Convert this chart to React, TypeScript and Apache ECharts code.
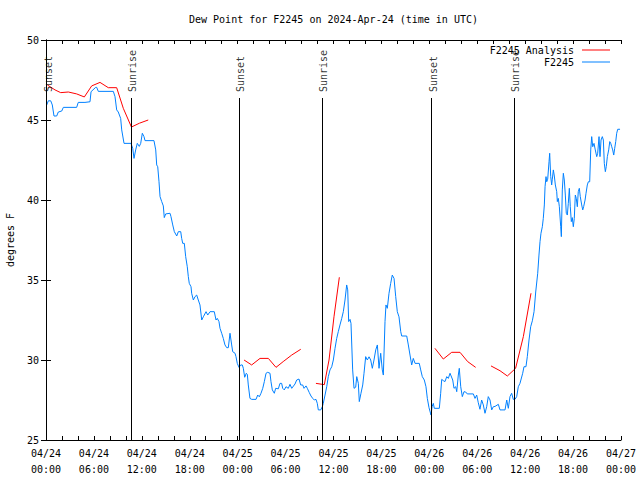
import React, { useEffect, useRef } from "react";
import * as echarts from "echarts";

const FONT = "DejaVu Sans Mono";

const titleText = "Dew Point for F2245 on 2024-Apr-24 (time in UTC)";
const yAxisName = "degrees F";
const tickDates = ["04/24", "04/24", "04/24", "04/24", "04/25", "04/25", "04/25", "04/25", "04/26", "04/26", "04/26", "04/26", "04/27"];
const tickTimes = ["00:00", "06:00", "12:00", "18:00", "00:00", "06:00", "12:00", "18:00", "00:00", "06:00", "12:00", "18:00", "00:00"];

// hours since 2024-04-24 00:00 UTC
const events: { h: number; name: string }[] = [
  { h: 0.09, name: "Sunset" },
  { h: 10.64, name: "Sunrise" },
  { h: 24.15, name: "Sunset" },
  { h: 34.6, name: "Sunrise" },
  { h: 48.3, name: "Sunset" },
  { h: 58.64, name: "Sunrise" },
];

const analysisSeg1: [number, number][] = [
  [0.17, 47.19], [1.13, 46.88], [1.84, 46.71], [2.8, 46.75], [3.84, 46.63], [4.8, 46.44],
  [5.72, 47.13], [6.76, 47.35], [7.8, 47.02], [8.85, 47.02], [9.68, 45.73], [10.7, 44.56],
  [11.7, 44.8], [12.8, 45.0],
];
const analysisSeg2: [number, number][] = [
  [24.8, 30.0], [25.75, 29.69], [26.8, 30.1], [27.84, 30.1], [28.8, 29.54], [29.7, 29.9],
  [30.77, 30.31], [31.9, 30.67],
];
const analysisSeg3: [number, number][] = [
  [33.8, 28.54], [34.85, 28.46], [35.44, 30.0], [36.06, 32.7], [36.73, 35.17],
];
const analysisSeg4: [number, number][] = [
  [48.7, 30.73], [49.75, 30.06], [50.8, 30.48], [51.84, 30.48], [52.8, 29.9], [53.8, 29.54],
];
const analysisSeg5: [number, number][] = [
  [55.72, 29.63], [56.85, 29.33], [57.77, 29.0], [58.8, 29.48], [59.77, 31.46], [60.73, 34.17],
];

const f2245: [number, number][] = [
  [0.09, 45.94], [0.29, 46.2], [0.59, 46.2], [0.79, 45.94], [1.0, 45.25], [1.34, 45.25], [1.54, 45.5],
  [1.97, 45.56], [2.17, 45.79], [3.84, 45.79], [4.04, 46.1], [4.88, 46.1], [5.51, 46.14], [5.64, 46.77],
  [6.22, 47.04], [6.35, 47.04], [6.55, 46.79], [8.43, 46.79], [8.64, 46.46], [8.85, 45.63], [9.05, 45.5],
  [9.35, 45.1], [9.48, 44.38], [9.77, 43.54], [10.64, 43.54], [10.86, 43.23], [11.02, 42.6], [11.23, 43.13],
  [11.43, 43.54], [11.68, 43.35], [11.86, 43.54], [12.06, 44.17], [12.27, 43.96], [12.4, 43.71],
  [13.52, 43.71], [13.74, 43.13], [13.86, 42.19], [13.99, 42.08], [14.15, 41.14], [14.28, 40.21],
  [14.49, 39.9], [14.69, 39.63], [14.81, 38.9], [14.99, 39.13], [15.53, 39.17], [15.65, 38.96],
  [15.87, 38.44], [16.07, 38.02], [16.37, 37.75], [16.57, 38.02], [16.87, 38.02], [16.99, 37.6],
  [17.12, 37.29], [17.32, 37.29], [17.49, 36.46], [17.69, 35.83], [17.82, 35.21], [17.94, 34.79],
  [18.16, 34.58], [18.24, 34.17], [18.45, 33.75], [18.66, 33.96], [18.87, 34.06], [19.07, 33.75],
  [19.28, 33.44], [19.5, 32.5], [19.7, 32.7], [20.04, 33.02], [20.25, 32.81], [20.54, 33.02],
  [21.07, 33.02], [21.29, 32.5], [21.45, 32.6], [21.66, 32.4], [21.79, 31.98], [22.0, 31.67],
  [22.2, 31.35], [22.41, 30.94], [22.63, 30.77], [22.83, 30.77], [23.04, 31.67], [23.25, 30.94],
  [23.38, 30.52], [23.67, 30.42], [23.79, 30.21], [23.95, 29.79], [24.17, 29.54], [24.38, 29.69],
  [24.58, 29.69], [24.71, 29.48], [24.88, 28.92], [25.08, 29.17], [25.21, 29.1], [25.33, 28.44],
  [25.54, 27.6], [25.76, 27.54], [26.3, 27.54], [26.51, 27.81], [26.71, 27.7], [26.92, 27.92],
  [27.14, 28.23], [27.34, 28.65], [27.55, 29.17], [27.76, 29.23], [28.05, 29.17], [28.17, 28.65],
  [28.34, 28.13], [28.59, 27.92], [28.76, 28.23], [29.09, 28.2], [29.3, 28.54], [29.51, 28.54],
  [29.64, 28.23], [29.84, 28.13], [30.05, 28.33], [30.34, 28.23], [30.55, 28.48], [30.77, 28.23],
  [31.18, 28.5], [31.39, 28.75], [31.68, 28.81], [31.89, 28.44], [32.14, 28.44], [32.31, 28.23],
  [32.56, 28.38], [32.72, 28.23], [32.97, 27.96], [33.18, 27.75], [33.4, 27.6], [33.6, 27.5],
  [33.81, 27.54], [33.97, 27.29], [34.1, 26.88], [34.4, 26.88], [34.6, 27.08], [34.72, 27.29],
  [34.94, 27.81], [35.15, 28.33], [35.35, 28.96], [35.56, 29.38], [35.78, 29.58], [35.98, 30.0],
  [36.19, 30.73], [36.4, 31.35], [36.6, 31.77], [36.81, 32.19], [37.03, 32.6], [37.23, 33.02],
  [37.44, 33.75], [37.65, 34.69], [37.78, 34.38], [37.9, 32.4], [38.07, 32.54], [38.19, 32.29],
  [38.4, 29.38], [38.57, 28.23], [38.78, 28.3], [38.91, 28.96], [39.11, 28.54], [39.23, 27.4],
  [39.44, 27.92], [39.66, 28.44], [39.82, 29.17], [40.03, 30.21], [40.23, 30.0], [40.45, 30.2],
  [40.66, 30.0], [40.86, 29.48], [41.07, 30.0], [41.29, 30.63], [41.49, 30.94], [41.7, 29.48],
  [41.91, 30.42], [42.11, 29.38], [42.24, 29.06], [42.45, 32.4], [42.57, 33.44], [42.74, 33.23],
  [42.95, 34.17], [43.16, 34.79], [43.36, 35.31], [43.58, 35.1], [43.79, 33.96], [43.99, 33.02],
  [44.2, 32.7], [44.42, 31.77], [44.54, 31.5], [45.17, 31.5], [45.37, 30.94], [45.58, 30.31],
  [45.79, 29.69], [45.99, 30.1], [46.21, 29.79], [46.74, 29.79], [46.92, 29.38], [47.12, 28.96],
  [47.37, 28.75], [47.58, 28.33], [47.75, 27.6], [47.96, 27.02], [48.21, 26.56], [48.34, 27.08],
  [48.5, 27.29], [48.62, 26.98], [49.25, 26.98], [49.42, 27.92], [49.55, 28.79], [49.75, 28.71],
  [49.96, 28.65], [50.18, 28.96], [50.38, 28.85], [50.59, 29.17], [50.93, 28.75], [51.09, 28.23],
  [51.3, 28.33], [51.43, 28.02], [51.63, 29.06], [51.75, 29.48], [51.93, 28.33], [52.13, 27.71],
  [52.34, 28.02], [52.55, 28.0], [52.75, 27.88], [53.51, 27.88], [53.72, 27.6], [53.93, 27.81],
  [54.13, 27.33], [54.34, 26.92], [54.55, 27.5], [54.76, 27.19], [54.97, 26.67], [55.18, 27.08],
  [55.38, 27.71], [55.6, 27.5], [55.81, 26.88], [56.01, 27.08], [56.23, 27.1], [56.64, 27.23],
  [56.85, 26.88], [57.48, 26.88], [57.69, 27.5], [57.89, 26.98], [58.1, 27.71], [58.31, 27.92],
  [58.51, 27.54], [58.72, 27.54], [58.94, 27.71], [59.14, 28.33], [59.35, 28.54], [59.69, 29.17],
  [59.85, 29.58], [60.1, 29.58], [60.27, 30.21], [60.48, 31.25], [60.69, 32.08], [60.9, 32.45],
  [61.11, 33.02], [61.32, 34.25], [61.57, 35.42], [61.73, 36.56], [61.86, 37.4], [61.98, 37.92],
  [62.15, 38.33], [62.27, 38.85], [62.4, 39.69], [62.49, 40.83], [62.61, 41.46], [62.7, 41.14],
  [62.82, 41.3], [62.99, 42.4], [63.07, 42.92], [63.2, 41.46], [63.32, 40.94], [63.4, 41.3],
  [63.53, 41.88], [63.65, 41.5], [63.78, 40.94], [63.95, 40.52], [64.03, 39.9], [64.15, 40.1],
  [64.28, 39.58], [64.45, 38.33], [64.53, 37.71], [64.65, 40.63], [64.78, 41.67], [64.9, 41.25],
  [65.03, 40.31], [65.15, 39.17], [65.28, 39.06], [65.4, 39.79], [65.53, 40.73], [65.65, 39.58],
  [65.78, 38.65], [65.9, 38.9], [66.03, 38.33], [66.15, 38.85], [66.28, 40.31], [66.4, 40.1],
  [66.53, 39.58], [66.65, 40.52], [66.78, 40.73], [66.9, 40.21], [67.08, 39.69], [67.21, 39.38],
  [67.33, 39.6], [67.5, 40.0], [67.62, 40.42], [67.78, 40.94], [67.91, 41.14], [68.08, 41.14],
  [68.21, 43.13], [68.33, 43.96], [68.46, 43.33], [68.62, 43.54], [68.78, 43.13], [68.96, 42.71],
  [69.08, 42.92], [69.25, 43.96], [69.37, 42.71], [69.5, 43.75], [69.66, 43.96], [69.79, 43.75],
  [69.91, 42.29], [70.04, 41.77], [70.16, 42.1], [70.29, 42.71], [70.46, 43.13], [70.59, 43.65],
  [70.71, 43.55], [70.84, 43.33], [70.96, 43.13], [71.09, 42.81], [71.21, 43.23], [71.34, 43.65],
  [71.46, 44.17], [71.59, 44.42], [71.88, 44.42],
];

const Y_MIN = 25;
const Y_MAX = 50;
const EVENT_LINE_TOP = 46.375;
const EVENT_LABEL_Y = 46.75;

export default function App() {
  const ref = useRef<HTMLDivElement>(null);
  useEffect(() => {
    if (!ref.current) return;
    const chart = echarts.init(ref.current, null, { renderer: "svg" });
    const analysis: any[] = [];
    [analysisSeg1, analysisSeg2, analysisSeg3, analysisSeg4, analysisSeg5].forEach((seg, i) => {
      if (i > 0) analysis.push([seg[0][0] - 0.5, "-"]);
      seg.forEach((p) => analysis.push(p));
    });
    const axisText = { fontFamily: FONT, fontSize: 10, color: "#000" };
    const mirrorX = {
      type: "value",
      min: 0,
      max: 72,
      interval: 6,
      axisLine: { show: true, lineStyle: { color: "#000", width: 1 } },
      axisTick: { show: true, inside: true, length: 4, lineStyle: { color: "#000" } },
      minorTick: { show: true, splitNumber: 3, length: 4, lineStyle: { color: "#000" } },
      splitLine: { show: false },
    };
    const mirrorY = {
      type: "value",
      min: Y_MIN,
      max: Y_MAX,
      interval: 5,
      axisLine: { show: true, lineStyle: { color: "#000", width: 1 } },
      axisTick: { show: true, inside: true, length: 5, lineStyle: { color: "#000" } },
      splitLine: { show: false },
    };
    chart.setOption({
      animation: false,
      backgroundColor: "#fff",
      textStyle: { fontFamily: FONT },
      title: {
        text: titleText,
        left: 189,
        top: 14,
        padding: 0,
        textStyle: { fontFamily: FONT, fontSize: 10, fontWeight: "normal", color: "#000" },
      },
      legend: [
        {
          data: ["F2245 Analysis"],
          right: 30,
          top: 45,
          padding: 0,
          align: "right",
          icon: "rect",
          itemWidth: 28,
          itemHeight: 1,
          textStyle: { ...axisText, padding: [0, 3, 0, 0] },
        },
        {
          data: ["F2245"],
          right: 30,
          top: 57,
          padding: 0,
          align: "right",
          icon: "rect",
          itemWidth: 28,
          itemHeight: 1,
          textStyle: { ...axisText, padding: [0, 3, 0, 0] },
        },
      ],
      grid: {
        left: 46,
        right: 19,
        top: 40,
        bottom: 40,
        show: false,
        containLabel: false,
        outerBoundsMode: "none",
      },
      xAxis: [
        {
          ...mirrorX,
          position: "bottom",
          axisLabel: {
            ...axisText,
            margin: 5,
            lineHeight: 16,
            showMinLabel: true,
            showMaxLabel: true,
            formatter: (v: number) => {
              const i = Math.round(v / 6);
              return tickDates[i] + "\n" + tickTimes[i];
            },
          },
        },
        { ...mirrorX, position: "top", axisLabel: { show: false } },
      ],
      yAxis: [
        {
          ...mirrorY,
          position: "left",
          name: yAxisName,
          nameLocation: "middle",
          nameGap: 31,
          nameRotate: 90,
          nameTextStyle: axisText,
          axisLabel: { ...axisText, margin: 7 },
        },
        { ...mirrorY, position: "right", axisLabel: { show: false } },
      ],
      series: [
        {
          name: "F2245 Analysis",
          type: "line",
          data: analysis,
          showSymbol: false,
          symbol: "none",
          connectNulls: false,
          color: "#ff0000",
          lineStyle: { color: "#ff0000", width: 1 },
          z: 3,
        },
        {
          name: "F2245",
          type: "line",
          data: f2245,
          showSymbol: false,
          symbol: "none",
          color: "#0080ff",
          lineStyle: { color: "#0080ff", width: 1 },
          z: 2,
        },
        {
          name: "events",
          type: "scatter",
          data: events.map((e) => ({ value: [e.h, EVENT_LABEL_Y], name: e.name })),
          symbolSize: 0,
          silent: true,
          label: {
            show: true,
            formatter: (p: any) => p.name,
            position: [1.5, 0],
            rotate: 90,
            align: "left",
            verticalAlign: "middle",
            ...axisText,
          },
          markLine: {
            silent: true,
            symbol: "none",
            label: { show: false },
            lineStyle: { color: "#000", width: 1, type: "solid" },
            data: events.map((e) => [{ coord: [e.h, Y_MIN] }, { coord: [e.h, EVENT_LINE_TOP] }]),
          },
          z: 4,
        },
      ],
    });
    return () => chart.dispose();
  }, []);
  return <div ref={ref} style={{ position: "fixed", left: 0, top: 0, width: 640, height: 480 }} />;
}
